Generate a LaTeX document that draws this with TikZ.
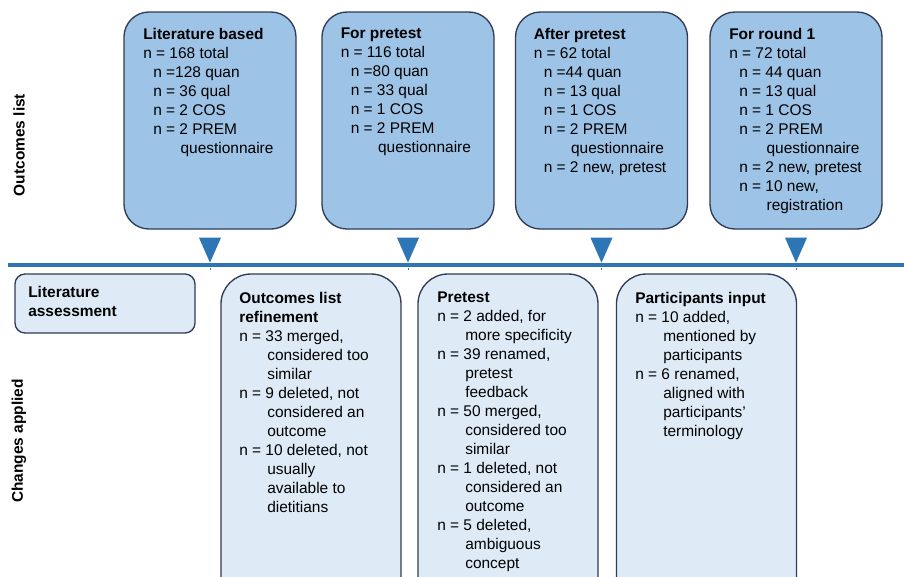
\documentclass[tikz,border=0pt]{standalone}
\usepackage{fontspec}
\setmainfont{Liberation Sans}
\usetikzlibrary{calc}
\definecolor{topfill}{HTML}{9DC3E6}
\definecolor{botfill}{HTML}{DEEBF7}
\definecolor{edge}{HTML}{2F3B57}
\definecolor{accent}{HTML}{2E75B6}
\newcommand\indA{\hspace*{7.5pt}}
\newcommand\indB{\hspace*{21pt}}
\newcommand\hangC{\hspace*{20.5pt}}
\begin{document}
\begin{tikzpicture}[x=0.75pt,y=-0.75pt,
 topbox/.style={draw=edge,line width=1pt,fill=topfill,rounded corners=18.75pt,minimum width=129pt,minimum height=162.75pt,inner sep=0pt},
 botbox/.style={draw=edge,line width=1pt,fill=botfill,rounded corners=22.5pt,minimum width=135pt,minimum height=259.5pt,inner sep=0pt},
 litbox/.style={draw=edge,line width=1pt,fill=botfill,rounded corners=7.5pt,minimum width=135pt,minimum height=44.25pt,inner sep=0pt},
 txt/.style={anchor=north west,inner sep=0pt,align=left,font=\fontsize{11.6}{14.25}\selectfont,text=black},
 side/.style={rotate=90,inner sep=0pt,font=\fontsize{11.6}{14}\selectfont\bfseries},
 tri/.style={fill=accent},
 tick/.style={draw=accent,line width=0.5pt},
 rule/.style={draw=accent,line width=3pt},
]
\useasboundingbox (0,0) rectangle (904,576);
\clip (0,0) rectangle (904,576);
\fill[white] (0,0) rectangle (904,576);

% side labels
\node[side] (sl1) at (19,145) {Outcomes list};
\node[side] (sl2) at (19,441) {Changes applied};

% top boxes
\node[topbox] (b1) at (210,120.5) {};
\node[topbox] (b2) at (408,120.5) {};
\node[topbox] (b3) at (601.5,120.5) {};
\node[topbox] (b4) at (796,120.5) {};

\node[txt] (t1) at (143,27.7) {\textbf{Literature based}\\n = 168 total\\\indA n =128 quan\\\indA n = 36 qual\\\indA n = 2 COS\\\indA n = 2 PREM\\\indA\hangC questionnaire};
\node[txt] (t2) at (340.5,27.7) {\textbf{For pretest}\\n = 116 total\\\indA n =80 quan\\\indA n = 33 qual\\\indA n = 1 COS\\\indA n = 2 PREM\\\indA\hangC questionnaire};
\node[txt] (t3) at (533.5,27.7) {\textbf{After pretest}\\n = 62 total\\\indA n =44 quan\\\indA n = 13 qual\\\indA n = 1 COS\\\indA n = 2 PREM\\\indA\hangC questionnaire\\\indA n = 2 new, pretest};
\node[txt] (t4) at (729,27.7) {\textbf{For round 1}\\n = 72 total\\\indA n = 44 quan\\\indA n = 13 qual\\\indA n = 1 COS\\\indA n = 2 PREM\\\indA\hangC questionnaire\\\indA n = 2 new, pretest\\\indA n = 10 new,\\\indA\hangC registration};

% horizontal rule
\coordinate (L) at (8,265);
\coordinate (R) at (904,265);
\draw[rule] (L) -- (R);

% triangles and ticks
\foreach \b in {b1,b2,b3,b4}{
  \fill[tri] ($(\b.south)+(-11,8)$) -- ($(\b.south)+(11,8)$) -- ($(\b.south)+(0,33)$) -- cycle;
  \draw[tick] ($(\b.south)+(0,38)$) -- ($(\b.south)+(0,40.5)$);
}

% bottom boxes
\node[litbox] (la) at (105,303.5) {};
\node[txt] (tla) at (28,286.5) {\textbf{Literature}\\\textbf{assessment}};

\node[botbox] (c1) at (311,447) {};
\node[botbox] (c2) at (508,447) {};
\node[botbox] (c3) at (706.5,447) {};

\node[txt] (u1) at (239,292) {\textbf{Outcomes list}\\\textbf{refinement}\\n = 33 merged,\\\indB considered too\\\indB similar\\n = 9 deleted, not\\\indB considered an\\\indB outcome\\n = 10 deleted, not\\\indB usually\\\indB available to\\\indB dietitians};
\node[txt] (u2) at (437,292) {\textbf{Pretest}\\n = 2 added, for\\\indB more specificity\\n = 39 renamed,\\\indB pretest\\\indB feedback\\n = 50 merged,\\\indB considered too\\\indB similar\\n = 1 deleted, not\\\indB considered an\\\indB outcome\\n = 5 deleted,\\\indB ambiguous\\\indB concept};
\node[txt] (u3) at (635,292) {\textbf{Participants input}\\n = 10 added,\\\indB mentioned by\\\indB participants\\n = 6 renamed,\\\indB aligned with\\\indB participants’\\\indB terminology};
\end{tikzpicture}
\end{document}
